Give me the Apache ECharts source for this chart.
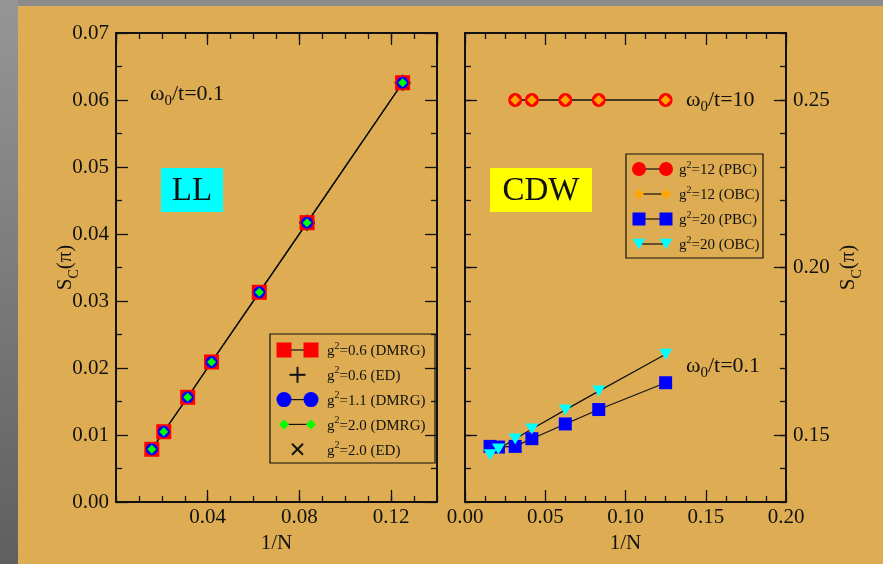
<!DOCTYPE html>
<html>
<head>
<meta charset="utf-8">
<script src="https://cdn.jsdelivr.net/npm/echarts@6/dist/echarts.min.js"></script>
<style>
html,body{margin:0;padding:0;}
#main{width:883px;height:564px;}
</style>
</head>
<body>
<div id="main"></div>
<script>
// 左图 LL：omega0/t=0.1
let invN = [1/64, 1/48, 1/32, 1/24, 1/16, 1/12, 1/8];
let llDmrg06 = [0.00787, 0.01049, 0.01563, 0.0209, 0.0313, 0.04169, 0.06258];
let llDmrg11 = [0.00787, 0.01049, 0.01563, 0.0209, 0.0313, 0.04169, 0.06258];
let llDmrg20 = [0.00787, 0.01049, 0.01563, 0.0209, 0.0313, 0.04169, 0.06258];
let edInvN = [1/12, 1/8];
let llEd06 = [0.04169, 0.06258];
let llEd20 = [0.04169, 0.06258];

// 右图 CDW
let invN12 = [1/32, 1/24, 1/16, 1/12, 1/8];
let cdwPbc12 = [0.25, 0.25, 0.25, 0.25, 0.25];
let cdwObc12 = [0.25, 0.25, 0.25, 0.25, 0.25];
let cdwPbc20 = [0.1466, 0.1464, 0.1466, 0.1489, 0.1533, 0.1576, 0.1656];
let cdwObc20 = [0.1441, 0.1458, 0.1488, 0.1518, 0.1575, 0.1631, 0.1741];

// 刻度标签
let rightYMajor = [0.15, 0.20, 0.25];

const ink = '#111111';
const serif = "'Liberation Serif', 'Times New Roman', serif";
const bg = '#dead53';

function pairs(xs, ys){
    return xs.map((x, i) => [x, ys[i]]);
}

let chart = echarts.init(document.getElementById('main'));

const plusPath = 'path://M7,0h2v16h-2z M0,7h16v2h-16z';
const crossPath = 'path://M1,0 L8,7 L15,0 L16,1 L9,8 L16,15 L15,16 L8,9 L1,16 L0,15 L7,8 L0,1 Z';

function axisBase(extra){
    return Object.assign({
        type: 'value',
        axisLine: {show: true, onZero: false, lineStyle: {color: ink, width: 2}},
        axisTick: {show: true, inside: true, length: 12, lineStyle: {color: ink, width: 1.3}},
        axisLabel: {show: false},
        splitLine: {show: false}
    }, extra);
}
const labelStyle = {show: true, color: ink, fontFamily: serif, fontSize: 21};
const fix2 = v => v.toFixed(2);
const scName = '{m|S}{s|C}{m|(π)}';
const scStyle = {
    color: ink, fontFamily: serif, fontSize: 21,
    rich: {
        m: {fontFamily: serif, fontSize: 21, color: ink, verticalAlign: 'top', lineHeight: 22},
        s: {fontFamily: serif, fontSize: 14, color: ink, verticalAlign: 'bottom', lineHeight: 26}
    }
};

let xAxes = [
    // 左图
    axisBase({gridIndex: 0, position: 'bottom', min: 0, max: 0.14, interval: 0.01,
        axisTick: {show: true, inside: true, length: 6, lineStyle: {color: ink, width: 1.3}}}),
    axisBase({gridIndex: 0, position: 'bottom', min: 0, max: 0.14, interval: 0.04,
        axisLabel: Object.assign({}, labelStyle, {formatter: fix2, margin: 5, showMinLabel: false, showMaxLabel: false}),
        name: '1/N', nameLocation: 'middle', nameGap: 30,
        nameTextStyle: {color: ink, fontFamily: serif, fontSize: 21}}),
    axisBase({gridIndex: 0, position: 'top', min: 0, max: 0.14, interval: 0.01,
        axisTick: {show: true, inside: true, length: 6, lineStyle: {color: ink, width: 1.3}}}),
    axisBase({gridIndex: 0, position: 'top', min: 0, max: 0.14, interval: 0.04}),
    // 右图
    axisBase({gridIndex: 1, position: 'bottom', min: 0, max: 0.2, interval: 0.05,
        minorTick: {show: true, splitNumber: 4, length: 6, lineStyle: {color: ink, width: 1.3}},
        axisLabel: Object.assign({}, labelStyle, {formatter: fix2, margin: 5}),
        name: '1/N', nameLocation: 'middle', nameGap: 30,
        nameTextStyle: {color: ink, fontFamily: serif, fontSize: 21}}),
    axisBase({gridIndex: 1, position: 'top', min: 0, max: 0.2, interval: 0.05,
        minorTick: {show: true, splitNumber: 4, length: 6, lineStyle: {color: ink, width: 1.3}}})
];

let yAxes = [
    // 左图
    axisBase({gridIndex: 0, position: 'left', min: 0, max: 0.07, interval: 0.01,
        minorTick: {show: true, splitNumber: 2, length: 6, lineStyle: {color: ink, width: 1.3}},
        axisLabel: Object.assign({}, labelStyle, {formatter: fix2, margin: 7}),
        name: scName, nameLocation: 'middle', nameRotate: 90, nameGap: 35, nameMoveOverlap: false, nameTextStyle: scStyle}),
    axisBase({gridIndex: 0, position: 'right', min: 0, max: 0.07, interval: 0.01,
        minorTick: {show: true, splitNumber: 2, length: 6, lineStyle: {color: ink, width: 1.3}}}),
    // 右图
    axisBase({gridIndex: 1, position: 'right', min: 0.13, max: 0.27, interval: 0.01,
        axisTick: {show: true, inside: true, length: 6, lineStyle: {color: ink, width: 1.3}}}),
    axisBase({gridIndex: 1, position: 'right', min: 0.13, max: 0.27,
        axisTick: {show: true, inside: true, length: 12, customValues: rightYMajor, lineStyle: {color: ink, width: 1.3}},
        axisLabel: Object.assign({}, labelStyle, {formatter: fix2, margin: 7, customValues: rightYMajor}),
        name: scName, nameLocation: 'middle', nameRotate: 90, nameGap: 52, nameTextStyle: scStyle}),
    axisBase({gridIndex: 1, position: 'left', min: 0.13, max: 0.27, interval: 0.01,
        axisTick: {show: true, inside: true, length: 6, lineStyle: {color: ink, width: 1.3}}}),
    axisBase({gridIndex: 1, position: 'left', min: 0.13, max: 0.27,
        axisTick: {show: true, inside: true, length: 12, customValues: rightYMajor, lineStyle: {color: ink, width: 1.3}}})
];

function lineSeries(name, xi, yi, data, symbol, size, color, extra){
    return Object.assign({
        name: name, type: 'line', xAxisIndex: xi, yAxisIndex: yi,
        data: data, symbol: symbol, symbolSize: size, showAllSymbol: true,
        itemStyle: {color: color, opacity: 1},
        lineStyle: {color: ink, width: 1.2},
        animation: false, silent: true
    }, extra || {});
}
function scatterSeries(name, xi, yi, data, symbol, size, color){
    return {
        name: name, type: 'scatter', xAxisIndex: xi, yAxisIndex: yi,
        data: data, symbol: symbol, symbolSize: size,
        itemStyle: {color: color, opacity: 1},
        animation: false, silent: true
    };
}

let series = [
    lineSeries('g2=0.6 (DMRG)', 1, 0, pairs(invN, llDmrg06), 'rect', 15, '#ff0000'),
    scatterSeries('g2=0.6 (ED)', 1, 0, pairs(edInvN, llEd06), plusPath, 16, ink),
    lineSeries('g2=1.1 (DMRG)', 1, 0, pairs(invN, llDmrg11), 'circle', 12, '#0000ff'),
    lineSeries('g2=2.0 (DMRG)', 1, 0, pairs(invN, llDmrg20), 'diamond', 9, '#00ff00'),
    scatterSeries('g2=2.0 (ED)', 1, 0, pairs(edInvN, llEd20), crossPath, 12, ink),

    lineSeries('g2=12 (PBC)', 4, 3, pairs(invN12, cdwPbc12), 'circle', 14, '#ff0000'),
    lineSeries('g2=12 (OBC)', 4, 3, pairs(invN12, cdwObc12), 'diamond', 10, '#ffa500'),
    lineSeries('g2=20 (PBC)', 4, 3, pairs(invN, cdwPbc20), 'rect', 13, '#0000ff'),
    lineSeries('g2=20 (OBC)', 4, 3, pairs(invN, cdwObc20), 'triangle', [13, 11], '#00ffff', {symbolRotate: 180})
];

// 图例（手绘）
function seg(x1, y1, x2, y2, w){
    return {type: 'line', shape: {x1, y1, x2, y2}, style: {stroke: ink, lineWidth: w || 1}};
}
function mark(kind, cx, cy, size, color){
    let h = size / 2;
    switch(kind){
        case 'rect': return {type: 'rect', shape: {x: cx - h, y: cy - h, width: size, height: size}, style: {fill: color}};
        case 'circle': return {type: 'circle', shape: {cx: cx, cy: cy, r: h}, style: {fill: color}};
        case 'diamond': return {type: 'polygon', shape: {points: [[cx, cy - h], [cx + h, cy], [cx, cy + h], [cx - h, cy]]}, style: {fill: color}};
        case 'tri': return {type: 'polygon', shape: {points: [[cx - h, cy - h * 0.8], [cx + h, cy - h * 0.8], [cx, cy + h * 0.8]]}, style: {fill: color}};
        case 'plus': return {type: 'group', children: [seg(cx - h, cy, cx + h, cy, 2), seg(cx, cy - h, cx, cy + h, 2)]};
        case 'cross': return {type: 'group', children: [seg(cx - h, cy - h, cx + h, cy + h, 2), seg(cx - h, cy + h, cx + h, cy - h, 2)]};
    }
}
function legendText(x, y, rest){
    return {
        type: 'text', x: x, y: y,
        style: {
            text: '{g|g}{s|2}{t|' + rest + '}',
            verticalAlign: 'middle', align: 'left',
            rich: {
                g: {fontFamily: serif, fontSize: 15, fill: ink, lineHeight: 18, verticalAlign: 'bottom'},
                s: {fontFamily: serif, fontSize: 10, fill: ink, verticalAlign: 'top', lineHeight: 10},
                t: {fontFamily: serif, fontSize: 15, fill: ink, lineHeight: 18, verticalAlign: 'bottom'}
            }
        }
    };
}
function legendBox(box, rows, x1, x2, tx, y0, dy){
    let els = [{type: 'rect', shape: box, style: {fill: 'none', stroke: ink, lineWidth: 1.2}}];
    rows.forEach((r, i) => {
        let y = y0 + i * dy;
        if (r.kind === 'plus' || r.kind === 'cross') {
            els.push(mark(r.kind, (x1 + x2) / 2, y, r.size, r.color));
        } else {
            els.push(seg(x1, y, x2, y, 1.2));
            els.push(mark(r.kind, x1, y, r.size, r.color));
            els.push(mark(r.kind, x2, y, r.size, r.color));
        }
        els.push(legendText(tx, y, r.text));
    });
    return els;
}

let leftRows = [
    {kind: 'rect', size: 15, color: '#ff0000', text: '=0.6 (DMRG)'},
    {kind: 'plus', size: 16, color: ink, text: '=0.6 (ED)'},
    {kind: 'circle', size: 15, color: '#0000ff', text: '=1.1 (DMRG)'},
    {kind: 'diamond', size: 10, color: '#00ff00', text: '=2.0 (DMRG)'},
    {kind: 'cross', size: 11, color: ink, text: '=2.0 (ED)'}
];
let rightRows = [
    {kind: 'circle', size: 14, color: '#ff0000', text: '=12 (PBC)'},
    {kind: 'diamond', size: 10, color: '#ffa500', text: '=12 (OBC)'},
    {kind: 'rect', size: 13, color: '#0000ff', text: '=20 (PBC)'},
    {kind: 'tri', size: 13, color: '#00ffff', text: '=20 (OBC)'}
];

function omegaText(x, y, val){
    return {
        type: 'text', x: x, y: y,
        style: {
            text: '{w|ω}{o|0}{w|/t=' + val + '}',
            verticalAlign: 'middle', align: 'left',
            rich: {
                w: {fontFamily: serif, fontSize: 22, fill: ink, lineHeight: 22, verticalAlign: 'top'},
                o: {fontFamily: serif, fontSize: 15, fill: ink, verticalAlign: 'bottom', lineHeight: 26}
            }
        }
    };
}
function tagBox(x, y, w, h, color, label){
    return {type: 'group', children: [
        {type: 'rect', shape: {x: x, y: y, width: w, height: h}, style: {fill: color}},
        {type: 'text', x: x + w / 2, y: y + h / 2 + 1, style: {text: label, fontFamily: serif, fontSize: 33, fill: ink, align: 'center', verticalAlign: 'middle'}}
    ]};
}

let graphics = [
    {type: 'rect', z: -10, silent: true, shape: {x: 0, y: 0, width: 883, height: 6}, style: {fill: '#8b8b8b'}},
    {type: 'rect', z: -10, silent: true, shape: {x: 0, y: 0, width: 18, height: 564},
        style: {fill: new echarts.graphic.LinearGradient(0, 0, 0, 1, [{offset: 0, color: '#969696'}, {offset: 1, color: '#5f5f5f'}])}},
    omegaText(150, 96, '0.1'),
    tagBox(161, 168, 62, 44, '#00ffff', 'LL'),
    tagBox(490, 168, 102, 44, '#ffff00', 'CDW'),
    omegaText(686, 102, '10'),
    omegaText(686, 368, '0.1')
].concat(
    legendBox({x: 270, y: 334, width: 165, height: 129}, leftRows, 284, 311, 327, 350, 24.8),
    legendBox({x: 626, y: 154, width: 137, height: 104}, rightRows, 639, 666, 679, 169, 25)
);

let option = {
    backgroundColor: bg,
    animation: false,
    grid: [
        {left: 116, top: 33, width: 321, height: 469},
        {left: 465, top: 33, width: 321, height: 469}
    ],
    xAxis: xAxes,
    yAxis: yAxes,
    series: series,
    graphic: {elements: graphics}
};
chart.setOption(option);
</script>
</body>
</html>
